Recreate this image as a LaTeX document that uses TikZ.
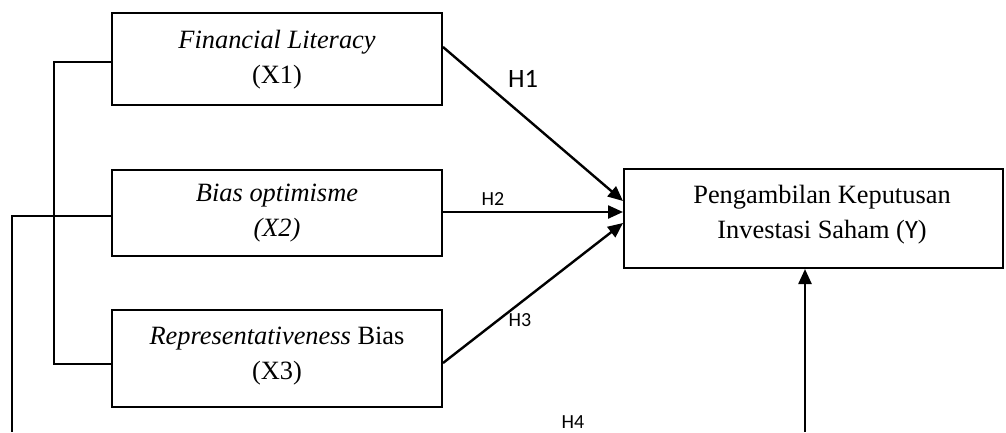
\documentclass[tikz,border=0pt]{standalone}
\usepackage{fontspec}
\setmainfont{Liberation Serif}
\newfontfamily\hfont{Carlito}
\usetikzlibrary{arrows.meta,calc}
\begin{document}
\begin{tikzpicture}[x=1pt,y=-1pt,
  box/.style={draw,line width=2pt,inner sep=0pt},
  boxtext/.style={align=center,font=\fontsize{26.4}{35}\selectfont,inner sep=0pt},
  conn/.style={line width=2pt},
  arr/.style={line width=2.4pt,-{Triangle[length=15pt,width=13pt]}},
  hlab/.style={font=\hfont\fontsize{20}{24}\selectfont,inner sep=0pt},
  hbig/.style={font=\hfont\fontsize{26.5}{30}\selectfont,inner sep=0pt}]
\useasboundingbox (0,0) rectangle (1006,432);
% boxes
\node[box,minimum width=330pt,minimum height=92pt] (x1) at (277,59) {};
\node[box,minimum width=330pt,minimum height=86pt] (x2) at (277,213) {};
\node[box,minimum width=330pt,minimum height=97pt] (x3) at (277,358.5) {};
\node[box,minimum width=379pt,minimum height=99pt] (yb) at (813.5,218.5) {};
% texts
\node[boxtext] (t1) at (277,59.5) {\textit{Financial Literacy}\\(X1)};
\node[boxtext] (t2) at (277,213.5) {\textit{Bias optimisme}\\\textit{(X2)}};
\node[boxtext] (t3) at (277,356) {\textit{Representativeness} Bias\\(X3)};
\node[boxtext] (ty) at (822,214.5) {Pengambilan Keputusan\\Investasi Saham ({\hfont Y})};
% labels
\node[hbig] (h1) at (523,79) {H1};
\node[hlab] (h2) at (493,199) {H2};
\node[hlab] (h3) at (520,320) {H3};
\node[hlab] (h4) at (573,422) {H4};
% arrows to Y
\draw[arr] (x1.east |- 0,47) -- (yb.west |- 0,201);
\draw[arr] (x2.east |- 0,212) -- (yb.west |- 0,212);
\draw[arr] (x3.east |- 0,363) -- (yb.west |- 0,223);
% left connectors
\coordinate (la) at (54,62);
\coordinate (lb) at (54,364);
\draw[conn] (x1.west |- la) -- (la) -- (lb) -- (x3.west |- lb);
\coordinate (lc) at (12,216);
\coordinate (ld) at (12,432);
\draw[conn] (x2.west |- lc) -- (lc) -- (ld);
% bottom arrow
\coordinate (b4) at (805,432);
\draw[arr] (b4) -- (yb.south -| b4);
\end{tikzpicture}
\end{document}
